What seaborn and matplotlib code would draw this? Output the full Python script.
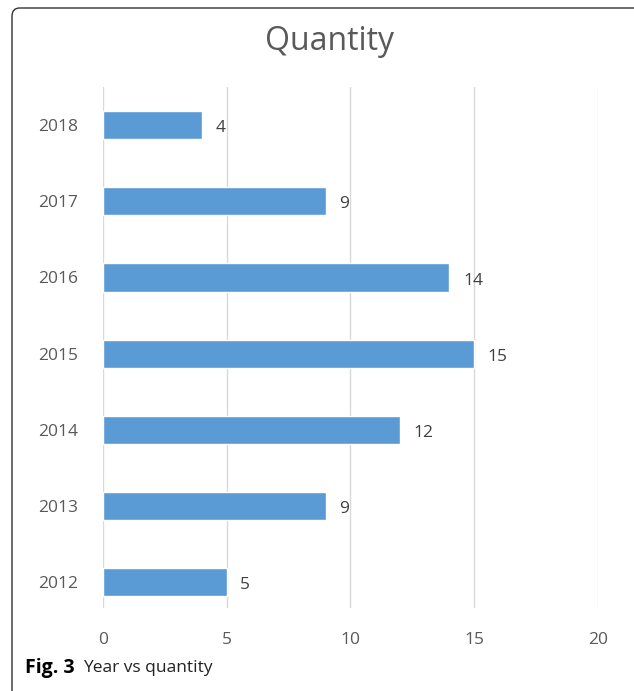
import numpy as np
import pandas as pd
import matplotlib.pyplot as plt
import seaborn as sns
from matplotlib.patches import FancyBboxPatch


years = ['2018', '2017', '2016', '2015', '2014', '2013', '2012']
quantity = [4, 9, 14, 15, 12, 9, 5]
xticks = [0, 5, 10, 15, 20]

df = pd.DataFrame({'year': years, 'quantity': quantity})

sns.set_style('white')
plt.rcParams['font.family'] = ['Open Sans', 'DejaVu Sans']

fig = plt.figure(figsize=(6.34, 6.91), dpi=100)
ax = fig.add_axes([0.1625, 0.120, 0.7805, 0.754])

sns.barplot(data=df, x='quantity', y='year', orient='h', color='#5B9BD5',
            width=0.37, saturation=1, ax=ax)

# value labels
for i, v in enumerate(quantity):
    ax.text(v + 0.55, i + 0.04, str(v), va='center', ha='left', fontsize=12.5, color='#404040')

ax.set_xlim(0, 20)
ax.set_ylim(6.34, -0.5)
ax.set_xticks(xticks)
ax.set_xticklabels([str(t) for t in xticks])
ax.xaxis.grid(True, color='#D9D9D9', linewidth=1)
ax.set_axisbelow(True)
for s in ax.spines.values():
    s.set_visible(False)
ax.tick_params(axis='both', length=0, labelsize=12.5, labelcolor='#595959')
ax.tick_params(axis='x', pad=17)
ax.tick_params(axis='y', pad=18)
ax.set_xlabel('')
ax.set_ylabel('')

fig.text(0.519, 0.940, 'Quantity', ha='center', va='center', fontsize=23, color='#595959')

# caption
fig.text(0.039, 0.033, 'Fig. 3', ha='left', va='center', fontsize=14, fontweight='bold', color='black')
fig.text(0.131, 0.033, 'Year vs quantity', ha='left', va='center', fontsize=12.5, color='#222222')

# border box
box = FancyBboxPatch((12 / 634, -0.05), 1.2, 1 - 8 / 691 + 0.05,
                     boxstyle='round,pad=0,rounding_size=0.012',
                     transform=fig.transFigure, fill=False, edgecolor='#333333',
                     linewidth=1, clip_on=False)
fig.patches.append(box)

fig.savefig('out.png', dpi=100)
